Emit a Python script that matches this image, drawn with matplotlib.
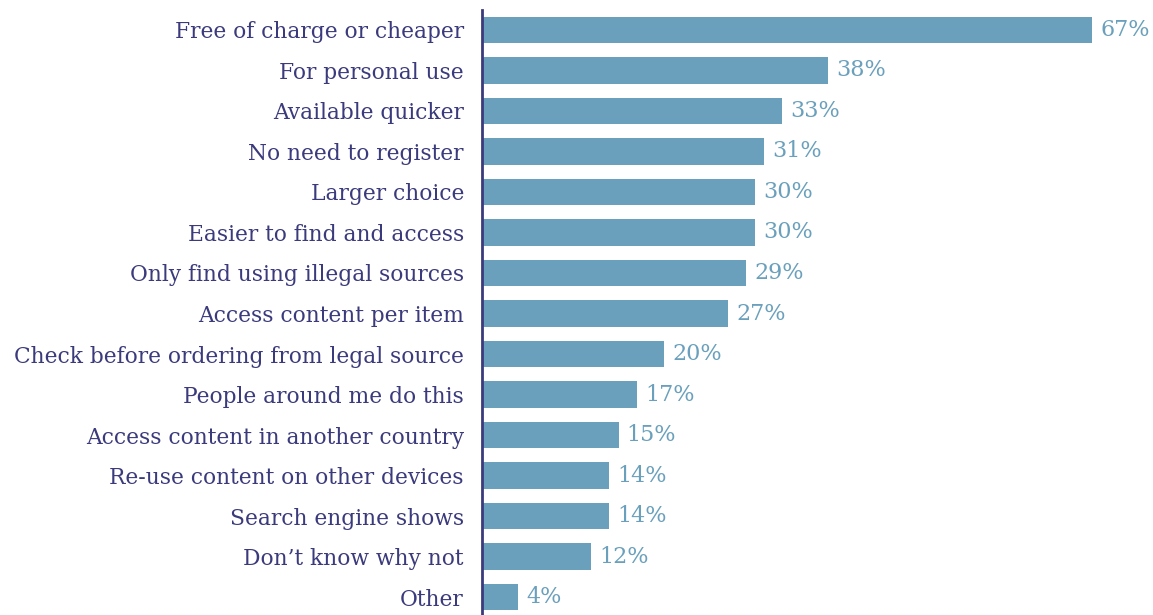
import matplotlib.pyplot as plt

categories = [
    "Free of charge or cheaper",
    "For personal use",
    "Available quicker",
    "No need to register",
    "Larger choice",
    "Easier to find and access",
    "Only find using illegal sources",
    "Access content per item",
    "Check before ordering from legal source",
    "People around me do this",
    "Access content in another country",
    "Re-use content on other devices",
    "Search engine shows",
    "Don\u2019t know why not",
    "Other",
]
values = [67, 38, 33, 31, 30, 30, 29, 27, 20, 17, 15, 14, 14, 12, 4]
value_labels = ["%d%%" % v for v in values]

bar_color = "#6aa0bc"
label_color = "#3a3a7c"

fig = plt.figure(figsize=(11.53, 6.15), dpi=100)
ax = fig.add_axes([0.418, 0.0, 0.582, 605 / 615])

ypos = list(range(len(categories)))
ax.barh(ypos, values, height=0.65, color=bar_color)

# percentage labels just past the end of each bar
for y, v, lab in zip(ypos, values, value_labels):
    ax.text(v + 0.9, y, lab, va="center", ha="left", color=bar_color,
            fontsize=16, family="DejaVu Serif")

ax.set_yticks(ypos)
ax.set_yticklabels(categories, fontsize=15.7, family="DejaVu Serif", color=label_color)
ax.tick_params(axis="y", length=0, pad=13)
ax.set_xticks([])
ax.set_xlim(0, 73.7)
ax.set_ylim(14.44, -0.49)

for side in ["top", "right", "bottom"]:
    ax.spines[side].set_visible(False)
ax.spines["left"].set_color(label_color)
ax.spines["left"].set_linewidth(2)

fig.savefig("out.png", dpi=100)
